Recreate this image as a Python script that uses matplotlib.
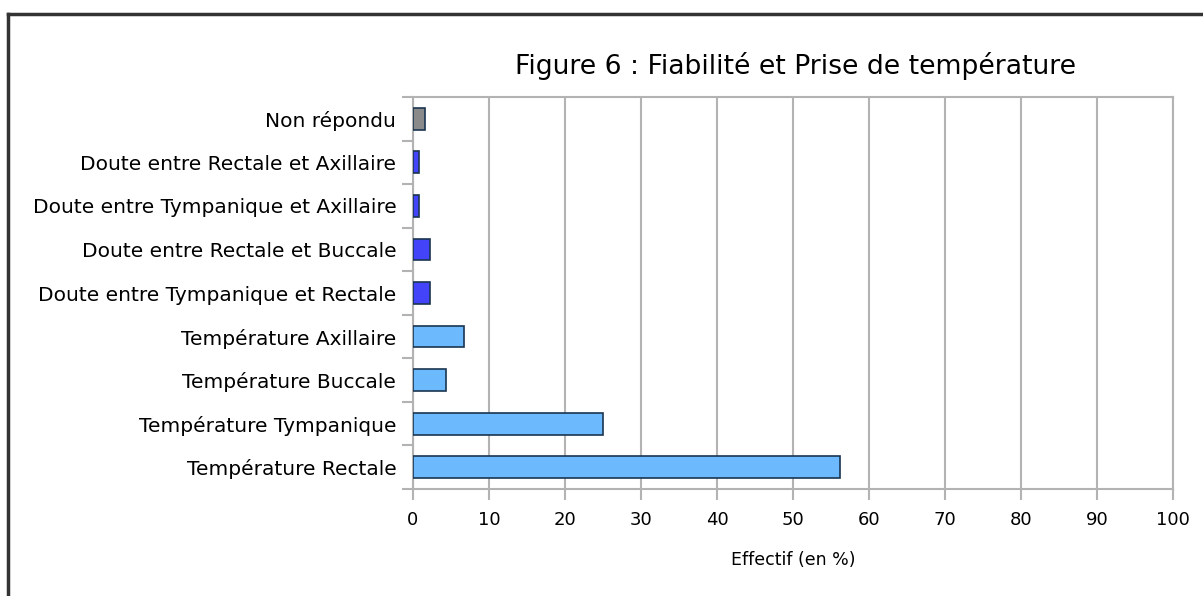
import matplotlib
matplotlib.use("Agg")
import matplotlib.pyplot as plt
from matplotlib.lines import Line2D

plt.rcParams['font.family'] = ['DejaVu Sans']

categories = ["Température Rectale", "Température Tympanique", "Température Buccale",
              "Température Axillaire", "Doute entre Tympanique et Rectale",
              "Doute entre Rectale et Buccale", "Doute entre Tympanique et Axillaire",
              "Doute entre Rectale et Axillaire", "Non répondu"]
valeurs = [56.2, 25.0, 4.3, 6.7, 2.2, 2.2, 0.8, 0.8, 1.6]
couleurs = ["#6cb9fe"] * 4 + ["#4343fa"] * 4 + ["#8a8a8a"]

fig = plt.figure(figsize=(12.03, 5.96), dpi=100)
ax = fig.add_axes([0.3433, 0.1795, 0.975 - 0.3433, 0.8372 - 0.1795])

pos = list(range(len(categories)))
ax.barh(pos, valeurs, height=0.5, color=couleurs, edgecolor="#1a3550", linewidth=1.2, zorder=3)

ax.set_xlim(0, 100)
ax.set_ylim(-0.5, len(categories) - 0.5)
ax.set_xticks(range(0, 101, 10))
ax.set_yticks(pos)
ax.set_yticklabels(categories, fontsize=14.5)
ax.set_yticks([p - 0.5 for p in pos] + [len(pos) - 0.5], minor=True)
ax.tick_params(axis='y', which='major', length=0, pad=12)
ax.tick_params(axis='y', which='minor', length=8, color="#b3b3b3", width=1.5)
ax.tick_params(axis='x', length=8, color="#b3b3b3", width=1.5, labelsize=13, pad=8)
ax.grid(axis='x', color="#b3b3b3", linewidth=1.5, zorder=0)
for s in ax.spines.values():
    s.set_color("#b3b3b3")
    s.set_linewidth(1.5)

ax.set_xlabel("Effectif (en %)", fontsize=12.5, labelpad=16)
fig.text(0.661, 0.889, "Figure 6 : Fiabilité et Prise de température", fontsize=19.2,
         ha='center', va='center')

# cadre
fig.add_artist(Line2D([8 / 1203, 1], [1 - 14 / 596, 1 - 14 / 596], color="#333333", linewidth=2.5))
fig.add_artist(Line2D([8 / 1203, 8 / 1203], [0, 1 - 14 / 596], color="#333333", linewidth=2.5))

fig.savefig("out.png", dpi=100)
